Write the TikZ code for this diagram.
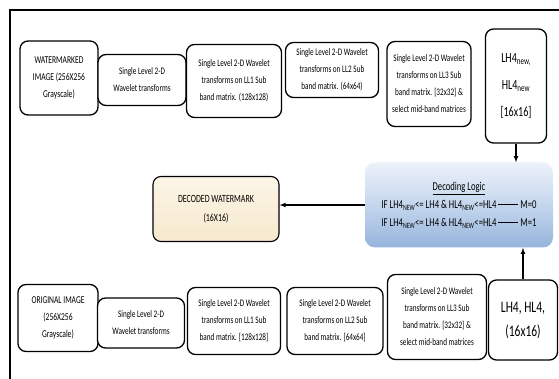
\documentclass[tikz,border=0pt]{standalone}
\usepackage{fontspec}
\setmainfont{Carlito}[FakeStretch=0.72]
\definecolor{logictop}{RGB}{236,242,250}
\definecolor{logicmid}{RGB}{196,214,237}
\definecolor{logicbot}{RGB}{150,180,220}
\definecolor{creamtop}{RGB}{253,246,232}
\definecolor{creambot}{RGB}{245,232,205}
\newcommand{\dashline}{\rule[0.6ex]{20pt}{0.7pt}}

\begin{document}
\begin{tikzpicture}[x=1pt,y=-1pt,
    blk/.style={draw, line width=1.3pt, rounded corners=8pt, fill=white, align=center, inner sep=0pt,
                font=\fontsize{10}{17}\selectfont},
    flow/.style={line width=1.1pt, -latex}]
            \useasboundingbox                                             (0,0) rectangle (559,379);
            \draw[line width=2.4pt]                                       (10,381) -- (10,10) -- (561,10);
            % watermarked image row
            \node[blk, minimum width=78, minimum height=74, font=\fontsize{10.5}{17}\selectfont] (wmimg) at ( 59, 78) {WATERMARKED\\IMAGE (256X256\\Grayscale)};
            \node[blk, minimum width=88, minimum height=51] (wmone)   at (142, 80) {Single Level 2-D\\Wavelet transforms};
            \node[blk, minimum width=95, minimum height=73] (wmll1)   at (234, 81) {Single Level 2-D Wavelet\\transforms on LL1 Sub\\band matrix. (128x128)};
            \node[blk, minimum width=93, minimum height=55] (wmll2)   at (332, 70) {Single Level 2-D Wavelet\\transforms on LL2 Sub\\band matrix. (64x64)};
            \node[blk, minimum width=84, minimum height=85] (wmll3)   at (429, 84) {Single Level 2-D Wavelet\\transforms on LL3 Sub\\band matrix. [32x32] \&\\select mid-band matrices};
            \node[blk, minimum width=61, minimum height=114, font=\fontsize{14}{27}\selectfont] (wmband) at (516, 86) {LH4\textsubscript{new,}\\HL4\textsubscript{new}\\{[16x16]}};
            % decoding
            \node[rounded corners=10pt, top color=logictop, bottom color=logicbot, middle color=logicmid, align=center,
                  minimum width=188, minimum height=85, inner sep=0pt, font=\fontsize{12}{18}\selectfont] (logic) at (459, 205)
                  {\underline{Decoding Logic}\\IF LH4\textsubscript{NEW}<= LH4 \& HL4\textsubscript{NEW}<=HL4 \dashline\ M=0\\IF LH4\textsubscript{NEW}<= LH4 \& HL4\textsubscript{NEW}<=HL4 \dashline\ M=1};
            \node[draw, line width=1.1pt, rounded corners=8pt, top color=creamtop, bottom color=creambot, align=center,
                  minimum width=126, minimum height=65, inner sep=0pt, font=\fontsize{11}{19}\selectfont] (decoded) at (216, 209)
                  {DECODED WATERMARK\\(16X16)};
            % original image row
            \node[blk, minimum width=80, minimum height=67, font=\fontsize{10.5}{17}\selectfont] (orimg) at ( 58,318) {ORIGINAL IMAGE\\(256X256\\Grayscale)};
            \node[blk, minimum width=87, minimum height=50] (orone)   at (141,323) {Single Level 2-D\\Wavelet transforms};
            \node[blk, minimum width=93, minimum height=67] (orll1)   at (234,321) {Single Level 2-D Wavelet\\transforms on LL1 Sub\\band matrix. [128x128]};
            \node[blk, minimum width=96, minimum height=67] (orll2)   at (335,321) {Single Level 2-D Wavelet\\transforms on LL2 Sub\\band matrix. [64x64]};
            \node[blk, minimum width=99, minimum height=85] (orll3)   at (437,317) {Single Level 2-D Wavelet\\transforms on LL3 Sub\\band matrix. [32x32] \&\\select mid-band matrices};
            \node[blk, minimum width=69, minimum height=80, font=\fontsize{16}{24}\selectfont] (orband) at (523,320) {LH4, HL4,\\(16x16)};
            % connectors
            \draw[flow] (wmband.south) -- (wmband.south |- logic.north);
            \draw[flow] (orband.north) -- (orband.north |- logic.south);
            \draw[flow] (logic.west) -- (logic.west -| decoded.east);
\end{tikzpicture}
\end{document}
